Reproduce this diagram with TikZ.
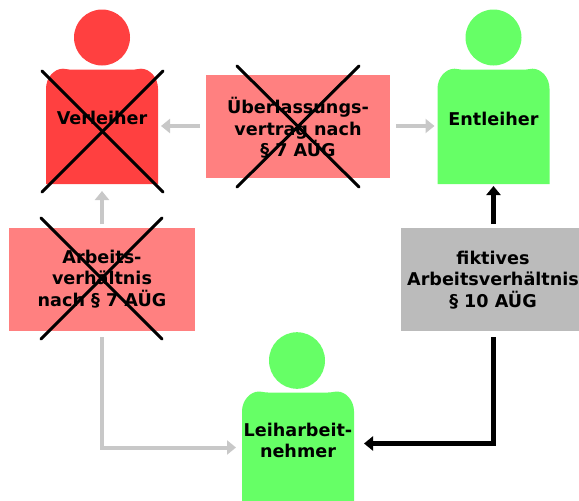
\documentclass[tikz,border=0pt]{standalone}
\usepackage{fontspec}
\setmainfont{DejaVu Sans}
\usetikzlibrary{arrows.meta}
\definecolor{persred}{HTML}{FF4040}
\definecolor{persgreen}{HTML}{66FF66}
\definecolor{boxred}{HTML}{FF8080}
\definecolor{boxgray}{HTML}{BBBBBB}
\definecolor{arrowgray}{HTML}{C8C8C8}
\tikzset{
  lbl/.style={font=\bfseries\fontsize{17.6}{21.5}\selectfont,align=center,inner sep=0pt},
  contract/.style={minimum width=#1,minimum height=103pt,inner sep=0pt,outer sep=0pt},
  persnode/.style={minimum width=112pt,minimum height=#1,inner sep=0pt,outer sep=0pt},
  cross/.style={line width=3pt,line cap=round,black},
  oldarrow/.style={-{Triangle[length=9pt,width=14pt]},line width=4pt,arrowgray},
  newarrow/.style={-{Triangle[length=9pt,width=14pt]},line width=4.4pt,black}
}
% #1 left, #2 top, #3 height, #4 colour
\newcommand{\personbody}[4]{
\fill[#4,shift={(#1,#2)}] (0,#3) -- (0,19) .. controls (0,8) and (8,-1) .. (17,-1)
  .. controls (20,-1) and (22,0) .. (26,0) -- (86,0) .. controls (90,0) and (92,-1) .. (95,-1)
  .. controls (104,-1) and (112,8) .. (112,19) -- (112,#3) -- cycle;
}
\begin{document}
\begin{tikzpicture}[line cap=butt,line join=miter,x=1pt,y=-1pt]
\clip(0,0) rectangle (579,501);
% persons
\fill[persred] (102,37.5) circle (28);
\personbody{46}{69.7}{114.3}{persred}
\fill[persgreen] (493.5,37.5) circle (28);
\personbody{437.5}{69.7}{114.3}{persgreen}
\fill[persgreen] (297,360.5) ellipse (28 and 28.3);
\personbody{242}{392.5}{120}{persgreen}
\node[persnode=116pt] (verleiher) at (102,126) {};
\node[persnode=116pt] (entleiher) at (493.5,126) {};
\node[persnode=109pt] (leih) at (298,446.5) {};
% contracts
\node[contract=184pt,fill=boxred] (ueberl) at (298,126) {};
\node[contract=186pt,fill=boxred] (arbeit) at (102,279.5) {};
\node[contract=185pt,fill=boxgray] (fiktiv) at (493.5,279.5) {};
% texts
\node[lbl] (tverl) at (102,118) {Verleiher};
\node[lbl] (tentl) at (493.5,119) {Entleiher};
\node[lbl] (tleih) at (298,440.5) {Leiharbeit-\\nehmer};
\node[lbl] (tueberl) at (298,128) {Überlassungs-\\vertrag nach\\§ 7 AÜG};
\node[lbl] (tarbeit) at (102,279) {Arbeits-\\verhältnis\\nach § 7 AÜG};
\node[lbl] (tfiktiv) at (493,280) {fiktives\\Arbeitsverhältnis\\§ 10 AÜG};
% connectors
\draw[oldarrow,shorten <=6pt,shorten >=3pt] (ueberl.west) -- (verleiher.east);
\draw[oldarrow,shorten <=6pt,shorten >=3pt] (ueberl.east) -- (entleiher.west);
\draw[oldarrow,shorten <=4pt,shorten >=7pt] (arbeit.north) -- (verleiher.south);
\draw[oldarrow,shorten <=6pt,shorten >=6pt] (arbeit.south) |- ([yshift=-1pt]leih.west);
\draw[newarrow,shorten <=4pt,shorten >=2pt] (fiktiv.north) -- (entleiher.south);
\draw[newarrow,shorten <=6pt,shorten >=10pt] (fiktiv.south) |- ([yshift=3pt]leih.east);
% crosses
\draw[cross] (42,71) -- (163,192);
\draw[cross] (163,71) -- (42,192);
\draw[cross] (237,66) -- (359,187);
\draw[cross] (359,66) -- (237,187);
\draw[cross] (41,218) -- (162,339);
\draw[cross] (162,218) -- (41,339);
\end{tikzpicture}
\end{document}
